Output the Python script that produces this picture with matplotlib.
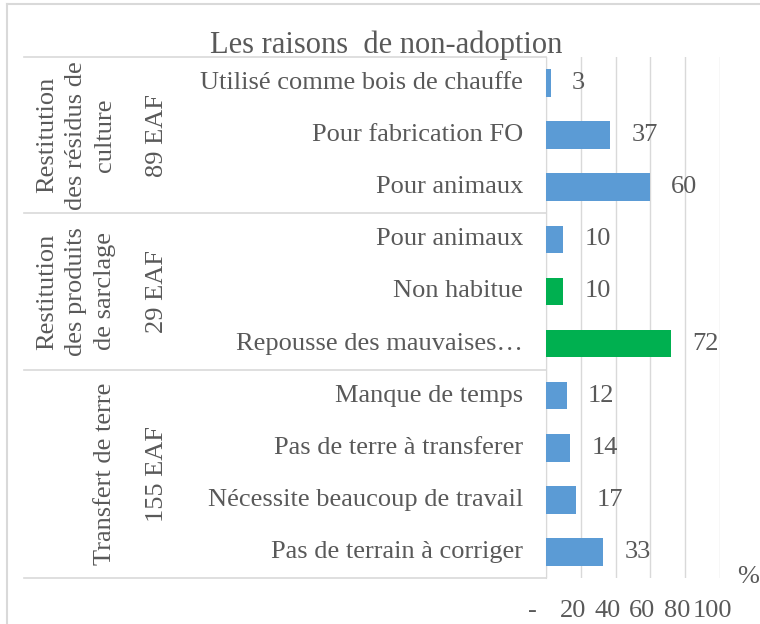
import matplotlib.pyplot as plt
from matplotlib.lines import Line2D
from matplotlib.transforms import blended_transform_factory, ScaledTranslation

# data, top to bottom
reasons = ["Utilisé comme bois de chauffe", "Pour fabrication FO", "Pour animaux",
           "Pour animaux", "Non habitue", "Repousse des mauvaises…",
           "Manque de temps", "Pas de terre à transferer",
           "Nécessite beaucoup de travail", "Pas de terrain à corriger"]
values = [3, 37, 60, 10, 10, 72, 12, 14, 17, 33]
groups = ["Restitution\ndes résidus de\nculture", "Restitution\ndes produits\nde sarclage",
          "Transfert de terre"]
group_eaf = ["89 EAF", "29 EAF", "155 EAF"]
group_sizes = [3, 3, 4]
xticks = [0, 20, 40, 60, 80, 100]
xtick_labels = ["-", "20", "40", "60", "80", "100"]

blue = "#5B9BD5"
green = "#00B050"
bar_colors = [blue, blue, blue, blue, green, green, blue, blue, blue, blue]
txt = "#595959"
line_c = "#D9D9D9"
fs = 19

plt.rcParams['font.family'] = ['Liberation Serif', 'DejaVu Serif']

fig = plt.figure(figsize=(7.6, 6.24), dpi=100)
ax = fig.add_axes([546 / 760, 1 - 578 / 624, 174 / 760, 521 / 624])

ypos = list(range(len(values)))
ax.barh(ypos, values, height=0.53, color=bar_colors, zorder=3)
ax.set_xlim(0, 100)
ax.set_ylim(len(values) - 0.5, -0.5)

# value labels
for y, v in zip(ypos, values):
    ax.annotate(str(v), (v, y), xytext=(15, 0), textcoords='offset points',
                ha='left', va='center', fontsize=fs, color=txt)

ax.set_yticks([])
ax.set_xticks(xticks)
ax.set_xticklabels(xtick_labels, fontsize=fs, color=txt)
ax.tick_params(axis='x', length=0, pad=16)
for lbl in ax.get_xticklabels():
    dx = -14 if lbl.get_text() == "-" else -8
    lbl.set_transform(lbl.get_transform() + ScaledTranslation(dx / 100, 0, fig.dpi_scale_trans))
ax.grid(axis='x', color=line_c, lw=1, zorder=0)
for s in ['top', 'right', 'bottom']:
    ax.spines[s].set_visible(False)
ax.spines['left'].set_color(line_c)

# multi-level category labels
tr = blended_transform_factory(fig.transFigure, ax.transData)
for y, r in zip(ypos, reasons):
    ax.text(523 / 760, y, r, transform=tr, ha='right', va='center', fontsize=fs, color=txt)

start = 0
bounds = [-0.5]
for g, e, n in zip(groups, group_eaf, group_sizes):
    mid = start + (n - 1) / 2
    ax.text(116 / 760, mid, g, transform=tr, rotation=90, ha='right', va='center',
            multialignment='center', fontsize=fs, color=txt, linespacing=1.4)
    ax.text(157 / 760, mid, e, transform=tr, rotation=90, ha='center', va='center',
            fontsize=fs, color=txt)
    start += n
    bounds.append(start - 0.5)
for b in bounds:
    ax.add_line(Line2D([24 / 760, 546 / 760], [b, b], transform=tr, color=line_c,
                       lw=1.2, clip_on=False))

# axis title and chart title
fig.text(748 / 760, 1 - 577 / 624, "%", ha='center', va='center', fontsize=fs, color=txt)
fig.text(386 / 760, 1 - 45 / 624, "Les raisons  de non-adoption", ha='center', va='center',
         fontsize=22, color=txt)

# chart area border (right and bottom fall outside the image)
fig.add_artist(Line2D([7 / 760, 7 / 760], [0, 1 - 4 / 624], color=line_c, lw=1.5))
fig.add_artist(Line2D([7 / 760, 1], [1 - 4 / 624, 1 - 4 / 624], color=line_c, lw=1.5))

fig.savefig("out.png", dpi=100)
